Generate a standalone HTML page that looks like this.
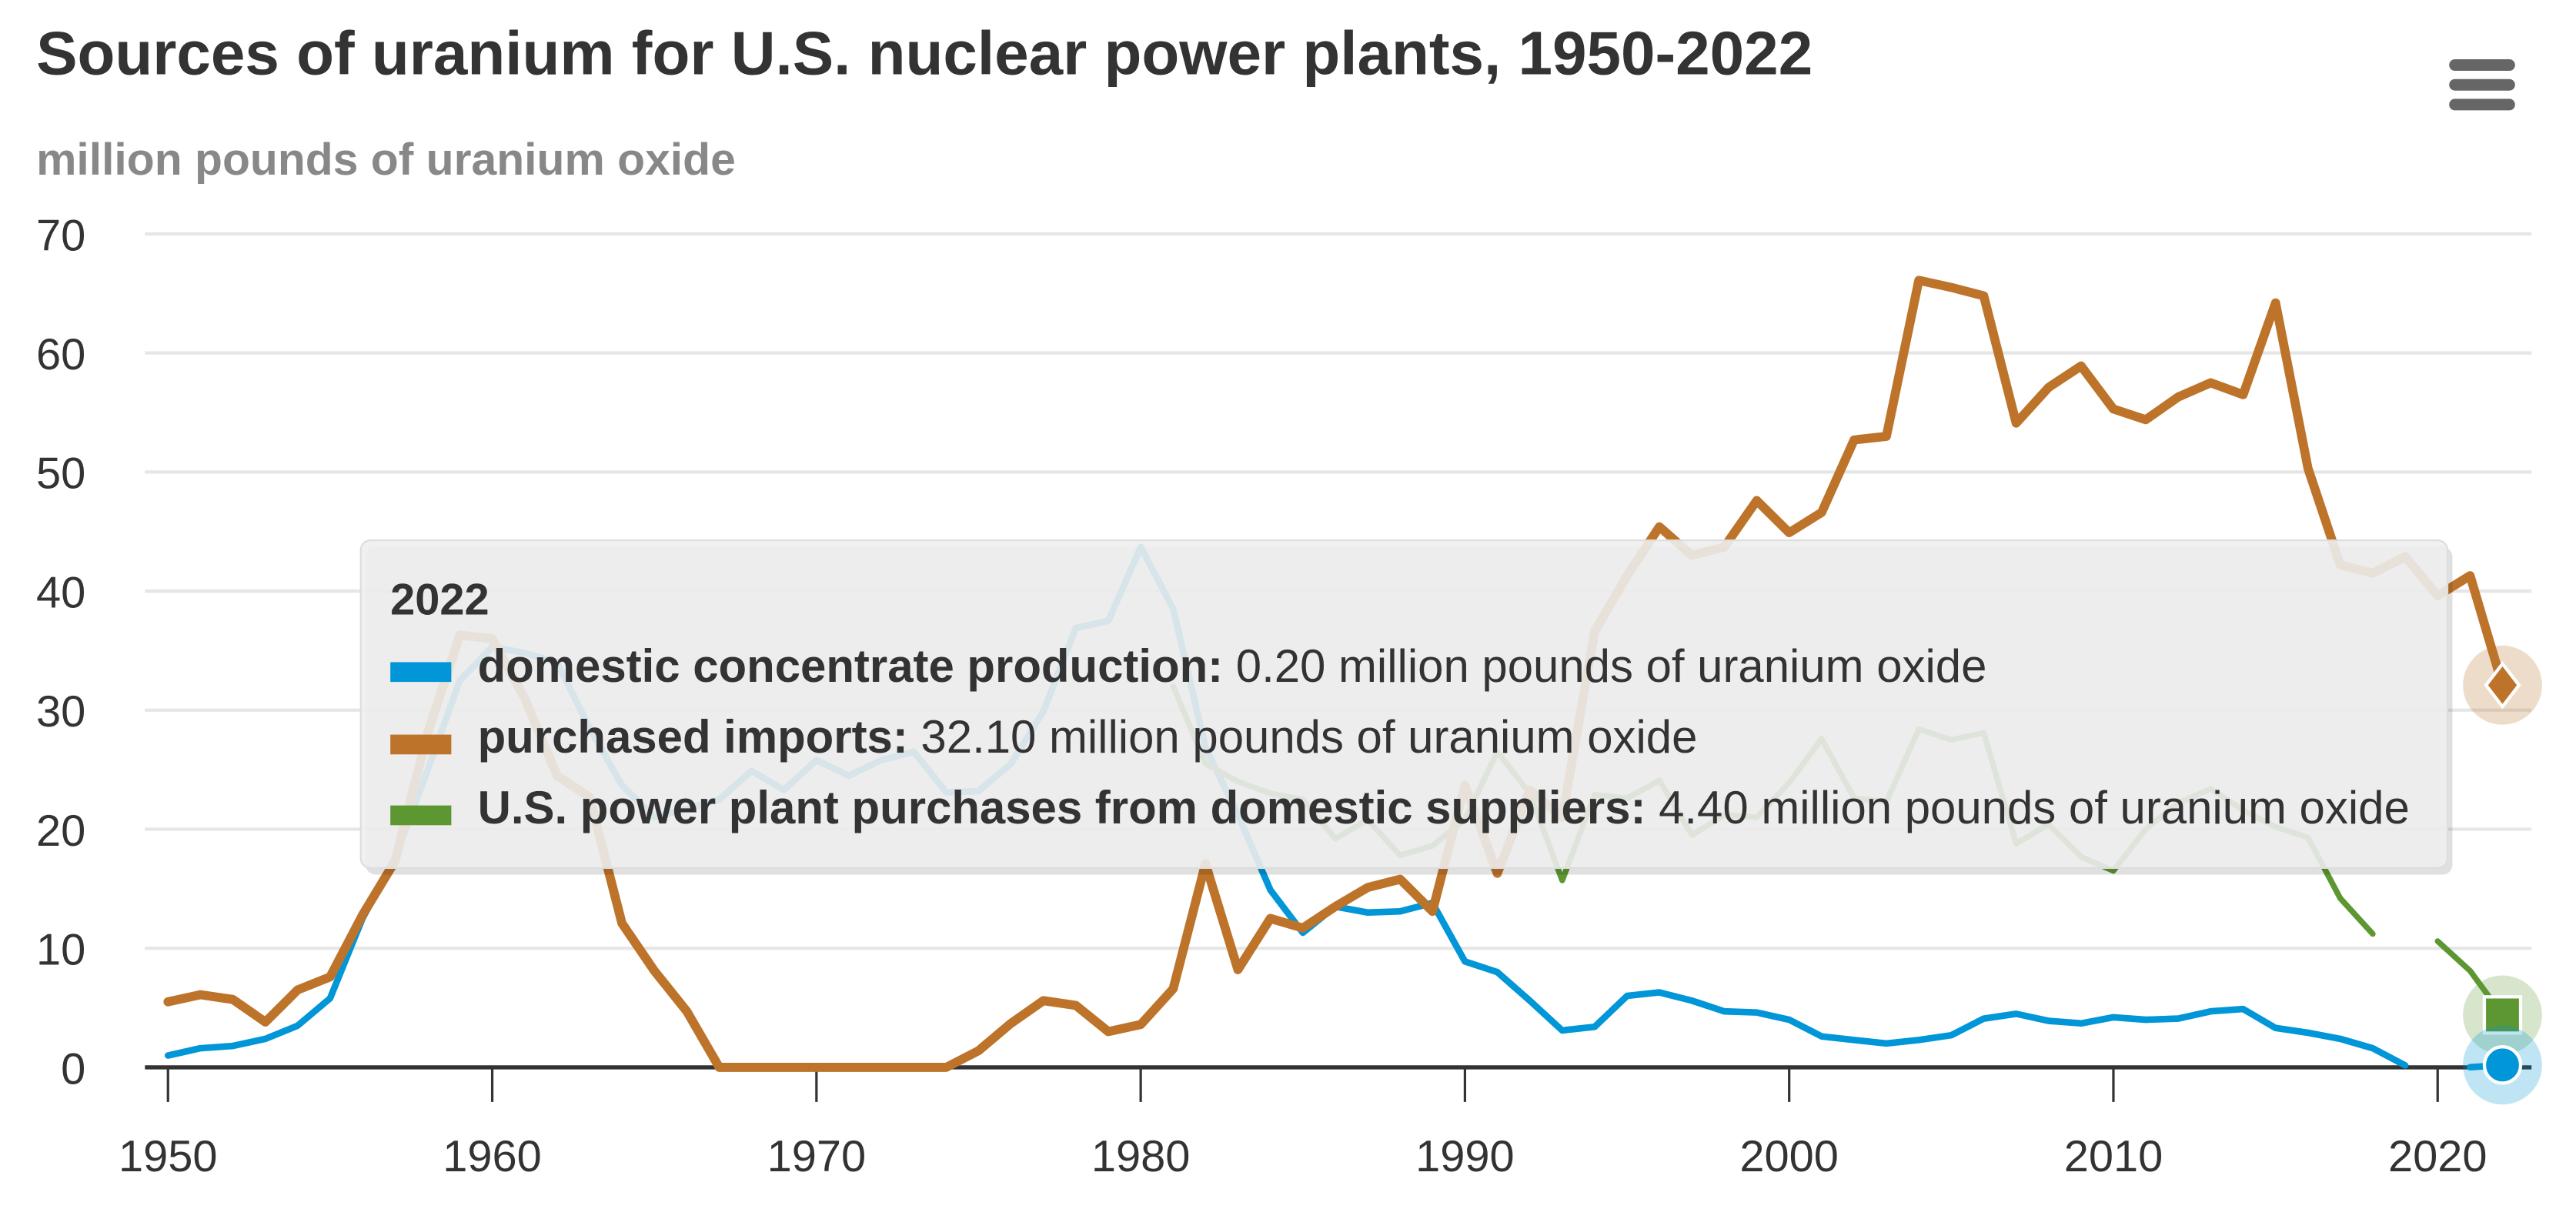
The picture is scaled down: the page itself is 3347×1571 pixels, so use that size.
<!DOCTYPE html>
<html><head><meta charset="utf-8"><style>
html,body{margin:0;padding:0;background:#fff;}
svg{display:block;font-family:"Liberation Sans",sans-serif;}
</style></head><body>
<svg id="chart" width="3347" height="1571" viewBox="0 0 1564 734" preserveAspectRatio="none" xmlns="http://www.w3.org/2000/svg">
<text x="22" y="45" font-size="37.4" font-weight="bold" fill="#333">Sources of uranium for U.S. nuclear power plants, 1950-2022</text>
<text x="22" y="106" font-size="27.5" font-weight="bold" fill="#888">million pounds of uranium oxide</text>
<g fill="#666">
<rect x="1487" y="36" width="40" height="7" rx="3.5"/><rect x="1487" y="48" width="40" height="7" rx="3.5"/><rect x="1487" y="60" width="40" height="7" rx="3.5"/>
</g>
<g id="grid"></g><g id="axes"></g><g id="series"></g><g id="markers"></g>
<g>
<rect x="222" y="332" width="1267" height="199" rx="6" fill="#000" opacity="0.12"/>
<rect x="219" y="328" width="1267" height="199" rx="6" fill="#eeeeee" fill-opacity="0.9" stroke="#ddd" stroke-width="1"/>
<text x="237" y="373" font-size="27" font-weight="bold" fill="#333">2022</text>
<rect x="237" y="402" width="37" height="12" fill="#0096d7"/>
<text x="290" y="414" font-size="28" fill="#333"><tspan font-weight="bold">domestic concentrate production:</tspan> 0.20 million pounds of uranium oxide</text>
<rect x="237" y="446" width="37" height="12" fill="#bd732a"/>
<text x="290" y="457" font-size="28" fill="#333"><tspan font-weight="bold">purchased imports:</tspan> 32.10 million pounds of uranium oxide</text>
<rect x="237" y="489" width="37" height="12" fill="#5d9732"/>
<text x="290" y="500" font-size="28" fill="#333"><tspan font-weight="bold">U.S. power plant purchases from domestic suppliers:</tspan> 4.40 million pounds of uranium oxide</text>
</g>
</svg>
<script>
const years = [];for(let y=1950;y<=2022;y++)years.push(y);
const domestic = [1.0,1.6,1.8,2.4,3.5,5.8,12.5,17.6,24.9,32.5,35.3,34.8,34.0,28.5,23.7,21.0,21.7,22.5,24.9,23.3,25.8,24.5,25.8,26.5,23.1,23.2,25.5,29.9,36.9,37.5,43.7,38.5,26.9,21.2,14.9,11.3,13.5,13.0,13.1,13.8,8.9,8.0,5.6,3.1,3.4,6.0,6.3,5.6,4.7,4.6,4.0,2.6,2.3,2.0,2.3,2.7,4.1,4.5,3.9,3.7,4.2,4.0,4.1,4.7,4.9,3.3,2.9,2.4,1.6,0.17,null,0.02,0.2];
const imports = [5.5,6.1,5.7,3.8,6.5,7.6,12.8,17.3,28.0,36.3,36.0,31.0,24.5,22.7,12.1,8.1,4.7,0,0,0,0,0,0,0,0,1.4,3.7,5.6,5.2,3.0,3.6,6.6,17.1,8.2,12.5,11.7,13.5,15.1,15.8,13.1,23.7,16.3,23.3,21.0,36.6,41.3,45.4,43.0,43.7,47.6,44.9,46.6,52.7,53.0,66.1,65.5,64.8,54.1,57.1,58.9,55.3,54.4,56.3,57.5,56.5,64.2,50.3,42.2,41.5,42.9,39.6,41.3,32.1];
const suppliers = [null,null,null,null,null,null,null,null,null,null,null,null,null,null,null,null,null,null,null,null,null,null,null,null,null,null,null,null,null,null,null,32.0,25.5,24.0,23.0,22.5,19.2,20.8,17.8,18.6,20.8,26.5,23.0,15.7,22.9,22.6,24.1,19.5,21.2,21.0,23.9,27.6,22.6,22.3,28.4,27.5,28.1,18.8,20.4,17.7,16.5,20.0,22.2,23.4,21.6,20.2,19.3,14.2,11.2,null,10.6,8.1,4.4];
const yTicks = [0,10,20,30,40,50,60,70];
const xTicks = [1950,1960,1970,1980,1990,2000,2010,2020];
const NS="http://www.w3.org/2000/svg";
const xS = y => 102 + (y-1950)*(1480-102)/70;
const yS = v => 648 - v*(648-142)/70;
function mk(tag,attrs,parent){const e=document.createElementNS(NS,tag);for(const k in attrs)e.setAttribute(k,attrs[k]);parent.appendChild(e);return e;}
const grid=document.getElementById('grid'),axes=document.getElementById('axes'),ser=document.getElementById('series'),mkr=document.getElementById('markers');
yTicks.forEach(t=>{
  if(t>0){const l=mk('line',{x1:88,x2:1537,y1:yS(t),y2:yS(t),stroke:'#e6e6e6','stroke-width':2},grid);
  
  }
  const tx=mk('text',{x:52,y:yS(t)+10,'text-anchor':'end','font-size':27,fill:'#333'},axes);tx.textContent=t;
  
  
});
const ax=mk('line',{x1:88,x2:1537,y1:yS(0),y2:yS(0),stroke:'#333','stroke-width':2.5},axes);


xTicks.forEach(t=>{
  const tk=mk('line',{x1:xS(t),x2:xS(t),y1:yS(0),y2:yS(0)+21,stroke:'#333','stroke-width':1.5},axes);
  
  
  const tx=mk('text',{x:xS(t),y:711,'text-anchor':'middle','font-size':27,fill:'#333'},axes);tx.textContent=t;
  
  
});
function line(vals,color,name,w){
  let d='',pen=false;
  vals.forEach((v,i)=>{if(v===null){pen=false;return;}d+=(pen?'L':'M')+xS(years[i]).toFixed(1)+' '+yS(v).toFixed(1)+' ';pen=true;});
  const p=mk('path',{d:d,fill:'none',stroke:color,'stroke-width':w,'stroke-linejoin':'round','stroke-linecap':'round'},ser);
  
  
}
line(domestic,'#0096d7','domestic-production-line',4);
line(suppliers,'#5d9732','domestic-suppliers-line',3.5);
line(imports,'#bd732a','imports-line',5.5);
const last=years.length-1, lx=xS(years[last]);
let h=mk('circle',{cx:lx,cy:yS(imports[last]),r:24,fill:'#bd732a',opacity:0.25},mkr);

let dm=mk('path',{d:`M${lx} ${yS(imports[last])-13}L${lx+10} ${yS(imports[last])}L${lx} ${yS(imports[last])+13}L${lx-10} ${yS(imports[last])}Z`,fill:'#bd732a',stroke:'#fff','stroke-width':2},mkr);

h=mk('circle',{cx:lx,cy:yS(suppliers[last]),r:24,fill:'#5d9732',opacity:0.25},mkr);

let sq=mk('rect',{x:lx-11,y:yS(suppliers[last])-11,width:22,height:22,fill:'#5d9732',stroke:'#fff','stroke-width':2},mkr);

h=mk('circle',{cx:lx,cy:yS(domestic[last]),r:24,fill:'#0096d7',opacity:0.25},mkr);

let c=mk('circle',{cx:lx,cy:yS(domestic[last]),r:11,fill:'#0096d7',stroke:'#fff','stroke-width':2},mkr);

</script>
</body></html>
